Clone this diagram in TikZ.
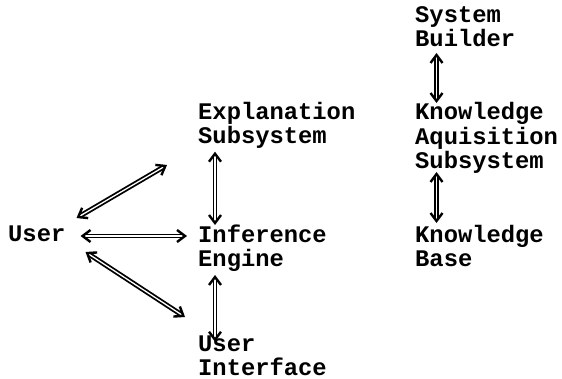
\documentclass[tikz,border=0pt]{standalone}
\usepackage{fontspec}
\setmonofont{Liberation Mono}
\usetikzlibrary{arrows.meta}
\tikzset{
  lbl/.style={anchor=base west, inner sep=0pt, align=left,
    font=\ttfamily\bfseries\fontsize{23.8}{24.3}\selectfont},
  dblarrow/.style={double, double distance=1.3pt, line width=1.8pt,
    {Straight Barb[length=8pt,width=12pt,line width=2.4pt]}-{Straight Barb[length=8pt,width=12pt,line width=2.4pt]}}
}
\begin{document}
\begin{tikzpicture}[x=1pt,y=-1pt]
\useasboundingbox (0,0) rectangle (562,379);
% anchors are at the baseline of the last line of each label
\node[lbl] (sb)   at (415,46.5)  {System\\Builder};
\node[lbl] (expl) at (198,143.5) {Explanation\\Subsystem};
\node[lbl] (ka)   at (415,168.6) {Knowledge\\Aquisition\\Subsystem};
\node[lbl] (user) at (8,242)     {User};
\node[lbl] (inf)  at (198,266.7) {Inference\\Engine};
\node[lbl] (kb)   at (415,266.7) {Knowledge\\Base};
\node[lbl] (ui)   at (198,375.5) {User\\Interface};
% vertical arrows
\draw[dblarrow] ([xshift=17pt,yshift=-8.2pt]expl.base west) -- ([xshift=17pt,yshift=41.7pt]inf.base west);
\draw[dblarrow] ([xshift=17pt,yshift=-8.3pt]inf.base west) -- ([xshift=17pt,yshift=33.8pt]ui.base west);
\draw[dblarrow] ([xshift=21.5pt,yshift=-6.5pt]sb.base west) -- ([xshift=21.5pt,yshift=65.6pt]ka.base west);
\draw[dblarrow] ([xshift=21.5pt,yshift=-3.4pt]ka.base west) -- ([xshift=21.5pt,yshift=43.7pt]kb.base west);
% arrows from user
\draw[dblarrow] ([xshift=11pt,yshift=24pt]user.base east) -- ([xshift=-31pt,yshift=-21.5pt]expl.base west);
\draw[dblarrow] ([xshift=15pt,yshift=6pt]user.base east) -- ([xshift=-11pt,yshift=30.7pt]inf.base west);
\draw[dblarrow] ([xshift=20pt,yshift=-10pt]user.base east) -- ([xshift=-13pt,yshift=58.5pt]ui.base west);
\end{tikzpicture}
\end{document}
